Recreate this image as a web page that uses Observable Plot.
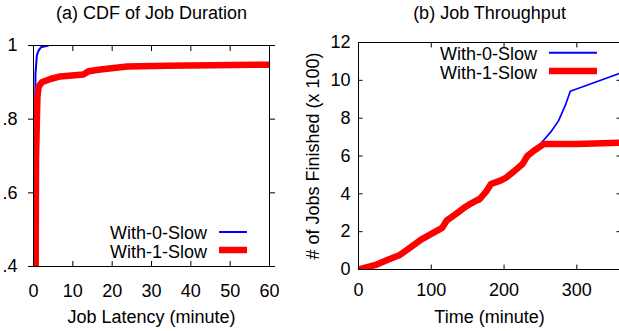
<!DOCTYPE html>
<html><head><meta charset="utf-8">
<script src="https://cdn.jsdelivr.net/npm/d3@7"></script>
<script src="https://cdn.jsdelivr.net/npm/@observablehq/plot@0.6"></script>
<style>
html,body{margin:0;padding:0;background:#fff;overflow:hidden}
#wrap{position:relative;width:619px;height:331px;overflow:hidden;background:#fff}
#wrap svg{position:absolute;top:0}
</style></head><body><div id="wrap"></div>
<script>
// ---- Panel (a): CDF of Job Duration ----
const cdfTitle = "(a) CDF of Job Duration";
const cdfXLabel = "Job Latency (minute)";
const cdfXTicks = [0, 10, 20, 30, 40, 50, 60];
const cdfYTicks = [0.4, 0.6, 0.8, 1];
const cdfYTickLabels = [".4", ".6", ".8", "1"];
const cdf0X = [0.1, 0.3, 0.43, 0.5, 0.69, 0.86, 1.28, 1.88, 3.8];
const cdf0Y = [0.3, 0.6, 0.815, 0.923, 0.95, 0.973, 0.986, 0.995, 1.0];
const cdf1X = [0.5, 0.56, 0.64, 0.86, 1.0, 1.3, 2.1, 4.3, 6.8, 12.7, 14.0, 17, 23.8, 34, 60];
const cdf1Y = [0.3, 0.4, 0.69, 0.8, 0.86, 0.888, 0.9, 0.909, 0.916, 0.921, 0.93, 0.935, 0.943, 0.945, 0.948];

// ---- Panel (b): Job Throughput ----
const tpTitle = "(b) Job Throughput";
const tpXLabel = "Time (minute)";
const tpYLabel = "# of Jobs Finished (x 100)";
const tpXTicks = [0, 100, 200, 300];
const tpYTicks = [0, 2, 4, 6, 8, 10, 12];
const tp0X = [0, 12, 25, 42, 56, 69, 86, 100, 115, 121, 134, 145, 155, 167, 175, 182, 195, 203, 214, 225, 232, 241, 248, 257, 264, 275, 285, 291, 360];
const tp0Y = [0, 0.12, 0.26, 0.54, 0.75, 1.1, 1.58, 1.88, 2.2, 2.58, 2.94, 3.26, 3.5, 3.58, 4.05, 4.5, 4.7, 4.86, 5.2, 5.56, 6.0, 6.3, 6.55, 6.95, 7.26, 7.87, 8.76, 9.42, 10.38];
const tp1X = [0, 12, 25, 42, 56, 69, 86, 100, 115, 121, 134, 145, 155, 167, 175, 182, 195, 203, 214, 225, 232, 241, 255, 300, 360];
const tp1Y = [0, 0.12, 0.26, 0.54, 0.75, 1.1, 1.58, 1.88, 2.2, 2.58, 2.94, 3.26, 3.5, 3.75, 4.1, 4.52, 4.7, 4.86, 5.2, 5.56, 6.0, 6.28, 6.64, 6.64, 6.7];

const seriesNames = ["With-0-Slow", "With-1-Slow"];
const seriesColors = ["#0000ff", "#ff0000"];

const font = '"Liberation Sans", Arial, Helvetica, sans-serif';
const zip = (xs, ys) => xs.map((x, i) => ({x, y: ys[i]}));
const blank = () => "";

const left = Plot.plot({
  width: 300, height: 331,
  marginLeft: 33, marginRight: 31, marginTop: 45, marginBottom: 65,
  style: {fontFamily: font, fontSize: "18px", color: "black", background: "transparent", overflow: "visible"},
  x: {domain: [0, 60]},
  y: {domain: [0.4, 1]},
  marks: [
    Plot.line(zip(cdf0X, cdf0Y), {x: "x", y: "y", stroke: seriesColors[0], strokeWidth: 2, clip: true}),
    Plot.line(zip(cdf1X, cdf1Y), {x: "x", y: "y", stroke: seriesColors[1], strokeWidth: 6.5, clip: true}),
    Plot.frame({stroke: "black", strokeWidth: 1}),
    Plot.axisX(cdfXTicks, {anchor: "bottom", tickSize: 0, tickPadding: 17.5, label: null}),
    Plot.axisX(cdfXTicks, {anchor: "bottom", tickSize: 5, dy: -5, tickFormat: blank, label: null}),
    Plot.axisX(cdfXTicks, {anchor: "top", tickSize: 5, dy: 5, tickFormat: blank, label: null}),
    Plot.axisY(cdfYTicks, {anchor: "left", tickSize: 5, tickPadding: 11, tickFormat: d => cdfYTickLabels[cdfYTicks.indexOf(d)], label: null}),
    Plot.axisY(cdfYTicks, {anchor: "right", tickSize: 5, tickFormat: blank, label: null}),
    Plot.text([cdfTitle], {frameAnchor: "top", lineAnchor: "bottom", dy: -27, fontSize: 18}),
    Plot.text([cdfXLabel], {frameAnchor: "bottom", lineAnchor: "bottom", dy: 56, fontSize: 18})
  ]
});
left.style.left = "0px";

const right = Plot.plot({
  width: 322, height: 331,
  marginLeft: 58, marginRight: 2, marginTop: 42, marginBottom: 62,
  style: {fontFamily: font, fontSize: "18px", color: "black", background: "transparent", overflow: "visible"},
  x: {domain: [0, 360]},
  y: {domain: [0, 12]},
  marks: [
    Plot.line(zip(tp0X, tp0Y), {x: "x", y: "y", stroke: seriesColors[0], strokeWidth: 1.7, clip: true}),
    Plot.line(zip(tp1X, tp1Y), {x: "x", y: "y", stroke: seriesColors[1], strokeWidth: 6.5, clip: true}),
    Plot.frame({stroke: "black", strokeWidth: 1}),
    Plot.axisX(tpXTicks, {anchor: "bottom", tickSize: 0, tickPadding: 14, label: null}),
    Plot.axisX(tpXTicks, {anchor: "bottom", tickSize: 4.5, dy: -4.5, tickFormat: blank, label: null}),
    Plot.axisX(tpXTicks, {anchor: "top", tickSize: 4.5, dy: 4.5, tickFormat: blank, label: null}),
    Plot.axisY(tpYTicks, {anchor: "left", tickSize: 0, tickPadding: 8, label: null}),
    Plot.axisY(tpYTicks, {anchor: "left", tickSize: 4.5, dx: 4.5, tickFormat: blank, label: null}),
    Plot.axisY(tpYTicks, {anchor: "right", tickSize: 4.5, dx: -4.5, tickFormat: blank, label: null}),
    Plot.text([tpTitle], {frameAnchor: "top", lineAnchor: "bottom", dy: -24, fontSize: 18}),
    Plot.text([tpXLabel], {frameAnchor: "bottom", lineAnchor: "bottom", dy: 53, fontSize: 18}),
    Plot.text([tpYLabel], {frameAnchor: "left", textAnchor: "middle", lineAnchor: "middle", rotate: -90, dx: -45.5, fontSize: 18})
  ]
});
right.style.left = "300px";

const wrap = document.getElementById("wrap");
wrap.appendChild(left);
wrap.appendChild(right);

// Legends (overlay)
const leg = d3.select(wrap).append("svg")
  .attr("width", 619).attr("height", 331)
  .style("left", "0px").style("pointer-events", "none");
const legends = [
  {textX: 207, lineX1: 219, lineX2: 247, rows: [{base: 239, ly: 232}, {base: 257.5, ly: 250}]},
  {textX: 537, lineX1: 549, lineX2: 597, rows: [{base: 60, ly: 52.7}, {base: 78.5, ly: 71}]}
];
const legWidths = [2, 6.5];
legends.forEach(L => {
  L.rows.forEach((r, i) => {
    leg.append("text").attr("x", L.textX).attr("y", r.base)
      .attr("text-anchor", "end").attr("font-family", font).attr("font-size", 18)
      .attr("fill", "black").text(seriesNames[i]);
    leg.append("line").attr("x1", L.lineX1).attr("x2", L.lineX2)
      .attr("y1", r.ly).attr("y2", r.ly)
      .attr("stroke", seriesColors[i]).attr("stroke-width", legWidths[i]);
  });
});
</script>
</body></html>
